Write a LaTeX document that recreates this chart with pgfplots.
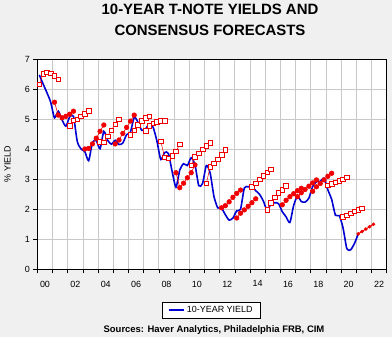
\documentclass[border=0pt]{standalone}
\usepackage{pgfplots}
\pgfplotsset{compat=1.18}
\usepackage{fontspec}
\setmainfont{Liberation Sans}
\definecolor{bg}{RGB}{240,240,240}
\definecolor{gridc}{RGB}{200,200,200}
\definecolor{yblue}{RGB}{0,0,210}
\definecolor{fred}{RGB}{240,0,0}
\pgfplotsset{
  sq/.style={fred, line width=0.5pt, mark=square*, mark size=2.3pt, mark options={fill=white, line width=0.6pt}, forget plot},
  dt/.style={fred, line width=0.6pt, mark=*, mark size=2.3pt, mark options={fill=fred}, forget plot},
}
\begin{document}
\begin{tikzpicture}[x=1bp,y=1bp]
\fill[bg] (0,0) rectangle (392,337);
\node[font=\bfseries\fontsize{15}{18}\selectfont, anchor=base] at (210,322) {10-YEAR T-NOTE YIELDS AND};
\node[font=\bfseries\fontsize{15}{18}\selectfont, anchor=base] at (210,301.3) {CONSENSUS FORECASTS};
\node[font=\fontsize{9}{10}\selectfont, rotate=90] at (7.5,173) {\% YIELD};
\node[font=\bfseries\fontsize{9.5}{11}\selectfont, anchor=base] at (214,4.5) {Sources: Haver Analytics, Philadelphia FRB, CIM};
\begin{axis}[
  at={(37.4bp,67.7bp)}, anchor=south west,
  scale only axis, width=349.3bp, height=210bp,
  xmin=2000, xmax=2023, ymin=0, ymax=7,
  axis background/.style={fill=white},
  axis line style={black, line width=0.8pt},
  xtick={2000,...,2023}, xticklabels={},
  minor x tick num=3,
  extra x ticks={2000.5,2002.5,2004.5,2006.5,2008.5,2010.5,2012.5,2014.5,2016.5,2018.5,2020.5,2022.5},
  extra x tick labels={00,02,04,06,08,10,12,14,16,18,20,22},
  extra x tick style={major tick length=0pt, grid=none, tick label style={yshift=-8bp}},
  ytick={0,...,7},
  grid=major, major grid style={gridc, line width=0.8pt},
  tick align=outside, xtick pos=left, ytick pos=left,
  major tick length=4bp, minor tick length=2.5bp,
  tick style={black, line width=0.6pt},
  tick label style={font=\fontsize{9}{10}\selectfont},
  /pgf/number format/assume math mode=true,
  legend style={at={(0.498,-0.194)}, anchor=center, draw=black, line width=0.6pt, fill=white, font=\fontsize{9}{10}\selectfont, inner xsep=6pt, inner ysep=2pt},
  legend image code/.code={\draw[yblue, line width=1.8pt] (0bp,0bp) -- (15bp,0bp);},
]
\addplot[yblue, line width=1.6pt, smooth, tension=0.4] coordinates {
(2000.125,6.48)(2000.375,6.18)(2000.625,5.89)(2000.875,5.57)
(2001.125,5.05)(2001.375,5.27)(2001.625,4.98)(2001.875,4.77)
(2002.125,5.08)(2002.375,5.10)(2002.625,4.26)(2002.875,4.01)
(2003.125,3.92)(2003.375,3.62)(2003.625,4.23)(2003.875,4.29)
(2004.125,4.02)(2004.375,4.60)(2004.625,4.30)(2004.875,4.17)
(2005.125,4.30)(2005.375,4.16)(2005.625,4.21)(2005.875,4.49)
(2006.125,4.57)(2006.375,5.07)(2006.625,4.90)(2006.875,4.63)
(2007.125,4.68)(2007.375,4.85)(2007.625,4.73)(2007.875,4.26)
(2008.125,3.66)(2008.375,3.89)(2008.625,3.86)(2008.875,3.25)
(2009.125,2.74)(2009.375,3.31)(2009.625,3.52)(2009.875,3.46)
(2010.125,3.72)(2010.375,3.49)(2010.625,2.79)(2010.875,2.86)
(2011.125,3.46)(2011.375,3.21)(2011.625,2.43)(2011.875,2.05)
(2012.125,2.04)(2012.375,1.82)(2012.625,1.64)(2012.875,1.71)
(2013.125,1.95)(2013.375,2.00)(2013.625,2.71)(2013.875,2.75)
(2014.125,2.76)(2014.375,2.62)(2014.625,2.50)(2014.875,2.28)
(2015.125,1.97)(2015.375,2.17)(2015.625,2.22)(2015.875,2.19)
(2016.125,1.92)(2016.375,1.75)(2016.625,1.56)(2016.875,2.13)
(2017.125,2.44)(2017.375,2.26)(2017.625,2.24)(2017.875,2.37)
(2018.125,2.76)(2018.375,2.92)(2018.625,2.93)(2018.875,3.04)
(2019.125,2.65)(2019.375,2.33)(2019.625,1.80)(2019.875,1.79)
(2020.125,1.38)(2020.375,0.69)(2020.625,0.65)(2020.875,0.86)
(2021.125,1.18)
};
\addlegendentry{10-YEAR YIELD}
\addplot[sq] coordinates {(2000.125,6.17)(2000.375,6.51)(2000.625,6.57)(2000.875,6.54)(2001.125,6.45)(2001.375,6.34)};
\addplot[dt] coordinates {(2001.125,5.57)(2001.375,5.14)(2001.625,5.05)(2001.875,5.10)(2002.125,5.17)(2002.375,5.27)};
\addplot[sq] coordinates {(2002.125,4.78)(2002.375,4.97)(2002.625,5.00)(2002.875,5.10)(2003.125,5.18)(2003.375,5.29)};
\addplot[dt] coordinates {(2003.125,4.01)(2003.375,4.03)(2003.625,4.18)(2003.875,4.37)(2004.125,4.60)(2004.375,4.81)};
\addplot[sq] coordinates {(2004.125,4.25)(2004.375,4.23)(2004.625,4.44)(2004.875,4.64)(2005.125,4.84)(2005.375,5.00)};
\addplot[dt] coordinates {(2005.125,4.18)(2005.375,4.31)(2005.625,4.53)(2005.875,4.73)(2006.125,4.94)(2006.375,5.14)};
\addplot[sq] coordinates {(2006.125,4.48)(2006.375,4.64)(2006.625,4.81)(2006.875,4.95)(2007.125,5.05)(2007.375,5.10)};
\addplot[sq] coordinates {(2007.125,4.62)(2007.375,4.78)(2007.625,4.87)(2007.875,4.92)(2008.125,4.95)(2008.375,4.95)};
\addplot[sq] coordinates {(2008.125,4.27)(2008.375,3.73)(2008.625,3.70)(2008.875,3.78)(2009.125,3.93)(2009.375,4.17)};
\addplot[dt] coordinates {(2009.125,3.22)(2009.375,2.72)(2009.625,2.87)(2009.875,3.05)(2010.125,3.22)(2010.375,3.48)};
\addplot[sq] coordinates {(2010.125,3.46)(2010.375,3.75)(2010.625,3.87)(2010.875,4.00)(2011.125,4.11)(2011.375,4.22)};
\addplot[sq] coordinates {(2011.125,2.86)(2011.375,3.42)(2011.625,3.53)(2011.875,3.67)(2012.125,3.81)(2012.375,3.98)};
\addplot[dt] coordinates {(2012.125,2.05)(2012.375,2.12)(2012.625,2.25)(2012.875,2.40)(2013.125,2.53)(2013.375,2.64)};
\addplot[dt] coordinates {(2013.125,1.71)(2013.375,1.87)(2013.625,1.98)(2013.875,2.10)(2014.125,2.22)(2014.375,2.35)};
\addplot[sq] coordinates {(2014.125,2.75)(2014.375,2.87)(2014.625,3.00)(2014.875,3.11)(2015.125,3.23)(2015.375,3.34)};
\addplot[sq] coordinates {(2015.125,1.98)(2015.375,2.22)(2015.625,2.40)(2015.875,2.55)(2016.125,2.65)(2016.375,2.78)};
\addplot[dt] coordinates {(2016.125,2.15)(2016.375,2.30)(2016.625,2.42)(2016.875,2.52)(2017.125,2.62)(2017.375,2.70)};
\addplot[dt] coordinates {(2017.125,2.42)(2017.375,2.55)(2017.625,2.66)(2017.875,2.77)(2018.125,2.88)(2018.375,2.98)};
\addplot[dt] coordinates {(2018.125,2.60)(2018.375,2.75)(2018.625,2.86)(2018.875,2.98)(2019.125,3.10)(2019.375,3.20)};
\addplot[sq] coordinates {(2019.125,2.80)(2019.375,2.85)(2019.625,2.90)(2019.875,2.95)(2020.125,3.00)(2020.375,3.07)};
\addplot[sq] coordinates {(2020.125,1.75)(2020.375,1.80)(2020.625,1.87)(2020.875,1.93)(2021.125,1.98)(2021.375,2.03)};
\addplot[fred, line width=0.9pt, mark=*, mark size=1.3pt, forget plot] coordinates {(2021.125,1.18)(2021.375,1.26)(2021.625,1.34)(2021.875,1.42)(2022.125,1.50)};
\end{axis}
\end{tikzpicture}
\end{document}
